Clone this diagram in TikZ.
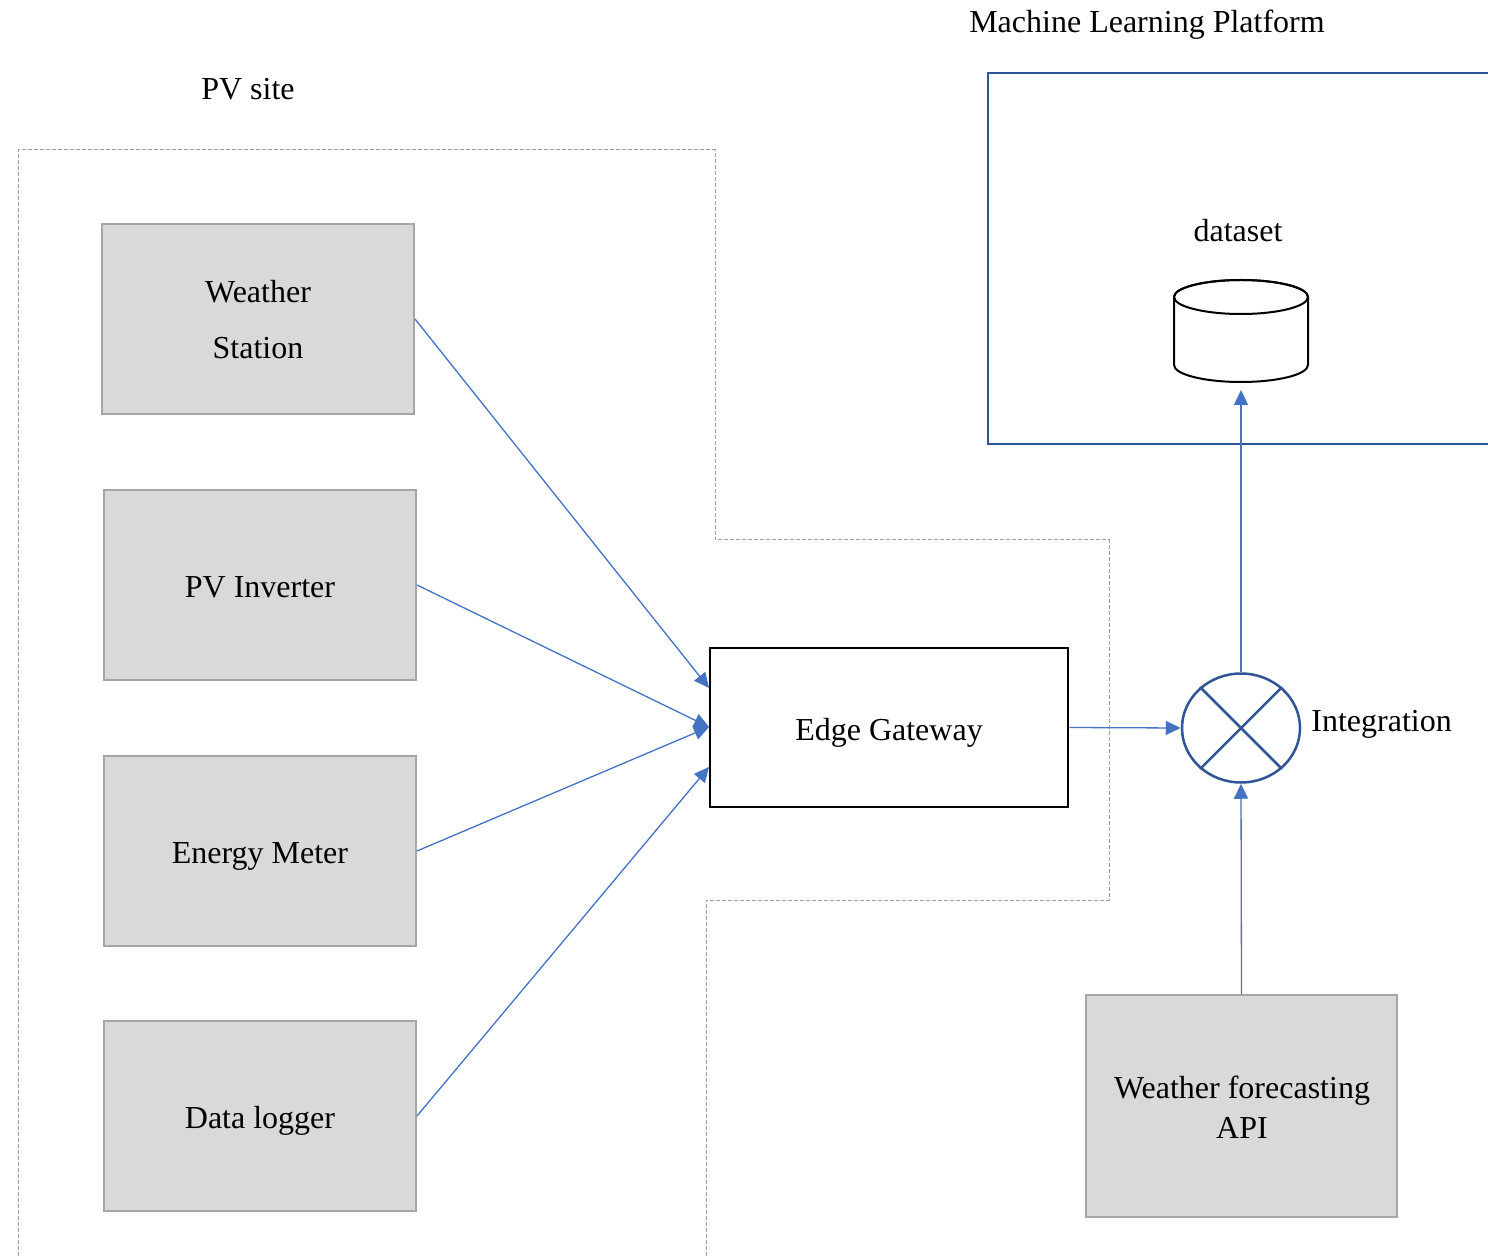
\documentclass[tikz,border=0pt]{standalone}
\usepackage{fontspec}
\setmainfont{Liberation Serif}
\usetikzlibrary{arrows.meta,shapes.geometric}
\definecolor{boxfill}{HTML}{D9D9D9}
\definecolor{boxline}{HTML}{A6A6A6}
\definecolor{flow}{HTML}{4472C4}
\definecolor{platform}{HTML}{2F5597}
\definecolor{sitegray}{HTML}{A0A0A0}
\begin{document}
\begin{tikzpicture}[x=0.5pt,y=-0.5pt,
  font=\fontsize{16}{20}\selectfont,
  device/.style={draw=boxline,line width=1pt,fill=boxfill,minimum width=156pt,
    minimum height=95pt,inner sep=0pt},
  flowarrow/.style={draw=flow,line width=0.65pt,-{Triangle[length=7.5pt,width=7pt]}},
  txt/.style={inner sep=0pt,anchor=base,align=center}]
\useasboundingbox (0,0) rectangle (1488,1256);

% PV site boundary
\draw[sitegray,line width=0.5pt,dash pattern=on 2pt off 1pt]
  (18,1262) -- (18,150) -- (715,150) -- (715,540) -- (1109,540)
  -- (1109,900) -- (706,900) -- (706,1262);
\node[txt] (pvsite) at (248,100) {PV site};

% machine learning platform
\draw[platform,line width=1.25pt] (1500,73) -- (988,73) -- (988,444) -- (1500,444);
\node[txt] (mlp) at (1147,33) {Machine Learning Platform};
\node[txt] (dslabel) at (1238,242) {dataset};

% dataset cylinder
\draw[black,line width=1pt,fill=white]
  (1174,365) -- (1174,297) arc[start angle=180,end angle=360,x radius=67,y radius=17]
  -- (1308,365) arc[start angle=0,end angle=180,x radius=67,y radius=17];
\draw[black,line width=1pt] (1241,297) ellipse[x radius=67,y radius=17];
\coordinate (dsbottom) at (1241,390);

% field devices
\node[device] (ws) at (258,319) {};
\node[device] (inv) at (260,585) {};
\node[device] (meter) at (260,851) {};
\node[device] (logger) at (260,1116) {};
\node[txt] (wsT) at (258,359) {Weather\\[8pt]Station};
\node[txt] (invT) at (260,597) {PV Inverter};
\node[txt] (meterT) at (260,863) {Energy Meter};
\node[txt] (loggerT) at (260,1128) {Data logger};

% gateway
\node[draw=black,line width=1.25pt,fill=white,minimum width=179pt,minimum height=79.5pt,
  inner sep=0pt] (gw) at (889,727.5) {};
\node[txt] (gwT) at (889,740) {Edge Gateway};

% integration
\node[ellipse,draw=platform,line width=1.25pt,fill=white,minimum width=59pt,
  minimum height=54.5pt,inner sep=0pt] (int) at (1241,728) {};
\draw[platform,line width=1.25pt] (int.45) -- (int.225);
\draw[platform,line width=1.25pt] (int.135) -- (int.-45);
\node[txt,anchor=base west] (intT) at (1311,731) {Integration};

% forecast service
\node[device,minimum width=155.5pt,minimum height=111pt] (api) at (1241.5,1106) {};
\node[txt] (apiT) at (1242,1138) {Weather forecasting\\API};

% connectors
\coordinate (gwA) at (709,688);
\coordinate (gwB) at (709,727);
\coordinate (gwC) at (709,767);
\draw[flowarrow] (ws.east) -- (gwA);
\draw[flowarrow] (inv.east) -- (gwB);
\draw[flowarrow] (meter.east) -- (gwB);
\draw[flowarrow] (logger.east) -- (gwC);
\draw[flowarrow] (gw.east) -- (int.west);
\draw[flowarrow] (api.north) -- (int.south);
\draw[flowarrow] (int.north) -- (dsbottom);
\end{tikzpicture}
\end{document}
